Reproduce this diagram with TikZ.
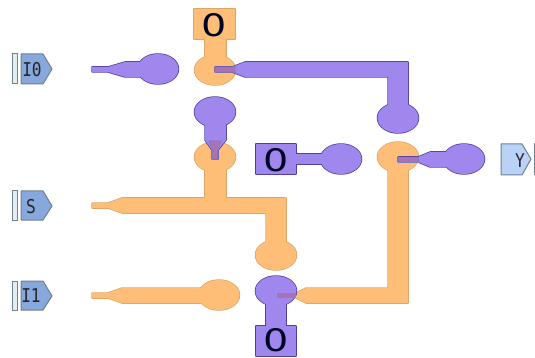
\documentclass[tikz,border=0pt]{standalone}
\usepackage{fontspec}
\setmainfont{DejaVu Sans}
\newfontfamily\portfont{DejaVu Sans Mono}
\definecolor{pfill}{HTML}{9F87EE}
\definecolor{pline}{HTML}{4F3F9F}
\definecolor{ofill}{HTML}{FFBE78}
\definecolor{oline}{HTML}{DBA566}
\definecolor{mixc}{HTML}{A873B4}
\definecolor{portc}{HTML}{86A8DC}
\definecolor{portl}{HTML}{B9D2F6}
\definecolor{portb}{HTML}{6F7F8C}
\definecolor{barc}{HTML}{E4EEF0}
% outline every part first, then fill every part, so that a net reads as one shape
\newcommand{\wireshape}[3]{%
  \foreach \part in {#3}{\draw[#1,line width=1.5pt,line join=round] \part;}
  \foreach \part in {#3}{\fill[#2] \part;}}
\newcommand{\blob}[1]{(#1) ellipse [x radius=20.5pt,y radius=15pt]}
\tikzset{
  x=1pt,y=-1pt,
  portshape/.style={draw=portb,line width=1pt,line join=round},
  portbar/.style={draw=portb,fill=barc,line width=1pt},
  portlabel/.style={inner sep=0pt,font=\portfont\fontsize{19}{19}\selectfont,xscale=.85,text=black!85},
  constlabel/.style={inner sep=0pt,font=\fontsize{31}{31}\selectfont,xscale=1.28,text=black!85!blue},
  overlap/.style={fill=mixc,draw=pline!70,line width=.6pt},
}
\begin{document}
\begin{tikzpicture}
\useasboundingbox (0,0) rectangle (535,358);
% blob centres
\coordinate (a) at (158,69);
\coordinate (b) at (215,70);
\coordinate (c) at (398,118);
\coordinate (d) at (215,112);
\coordinate (e) at (215,157);
\coordinate (f) at (341,159);
\coordinate (g) at (398,157);
\coordinate (h) at (464,159);
\coordinate (i) at (276,255);
\coordinate (j) at (219,295);
\coordinate (k) at (276,291);
% orange nets
\wireshape{oline}{ofill}{{(194,9) rectangle (235,39)},{(205,39) rectangle (226,70)},{\blob{b}}}
\wireshape{oline}{ofill}{{(92,203)--(108,203)--(122,198)--(286,198)--(286,255)--(266,255)--(266,213)--(122,213)--(108,208)--(92,208)--cycle},{(205,157) rectangle (226,200)},{\blob{e}},{\blob{i}}}
\wireshape{oline}{ofill}{{(92,293)--(108,293)--(122,288)--(219,288)--(219,303)--(122,303)--(108,298)--(92,298)--cycle},{\blob{j}}}
\wireshape{oline}{ofill}{{(296,293)--(306,288)--(388,288)--(388,157)--(408,157)--(408,303)--(306,303)--(296,298)--cycle},{\blob{g}}}
% purple nets
\wireshape{pline}{pfill}{{(92,67)--(108,67)--(125,62)--(158,62)--(158,77)--(125,77)--(108,72)--(92,72)--cycle},{\blob{a}}}
\wireshape{pline}{pfill}{{(215,67)--(232,67)--(245,62)--(408,62)--(408,118)--(388,118)--(388,77)--(245,77)--(232,72)--(215,72)--cycle},{\blob{c}}}
\wireshape{pline}{pfill}{{(205,112)--(226,112)--(226,140)--(218,150)--(218,159)--(212,159)--(212,150)--(205,140)--cycle},{\blob{d}}}
\wireshape{pline}{pfill}{{(256,144) rectangle (296,174)},{(296,154) rectangle (341,164)},{\blob{f}}}
\wireshape{pline}{pfill}{{(398,157)--(418,157)--(430,152)--(464,152)--(464,167)--(430,167)--(418,162)--(398,162)--cycle},{\blob{h}}}
\wireshape{pline}{pfill}{{(266,291) rectangle (286,326)},{(256,326) rectangle (296,356)},{\blob{k}}}
% overlaps
\path[overlap] (215,67)--(232,67)--(235,66)--(235,73)--(232,72)--(215,72)--cycle;
\path[overlap] (209,141)--(221,141)--(218,150)--(218,159)--(212,159)--(212,150)--cycle;
\path[overlap] (398,157)--(418,157)--(418,162)--(398,162)--cycle;
\path[fill=mixc] (277,293) rectangle (296,298);
% constants
\node[constlabel] (c1) at (214.5,25) {0};
\node[constlabel] (c2) at (276,160) {0};
\node[constlabel] (c3) at (276,340) {0};
% ports
\draw[portbar] (12,54) rectangle (17,84);
\draw[portshape,fill=portc] (21,54)--(43,54)--(52,69)--(43,84)--(21,84)--cycle;
\node[portlabel] (p0) at (32,70) {I0};
\draw[portbar] (12,191) rectangle (17,220);
\draw[portshape,fill=portc] (21,191)--(43,191)--(52,206)--(43,220)--(21,220)--cycle;
\node[portlabel] (p1) at (31,207) {S};
\draw[portbar] (12,281) rectangle (17,310);
\draw[portshape,fill=portc] (21,281)--(43,281)--(52,296)--(43,310)--(21,310)--cycle;
\node[portlabel] (p2) at (31,296) {I1};
\draw[portshape,fill=portl] (501,144)--(522,144)--(531,159)--(522,175)--(501,175)--cycle;
\draw[portbar] (534.5,144) rectangle (540,175);
\node[portlabel] (p3) at (520,161) {Y};
\end{tikzpicture}
\end{document}
